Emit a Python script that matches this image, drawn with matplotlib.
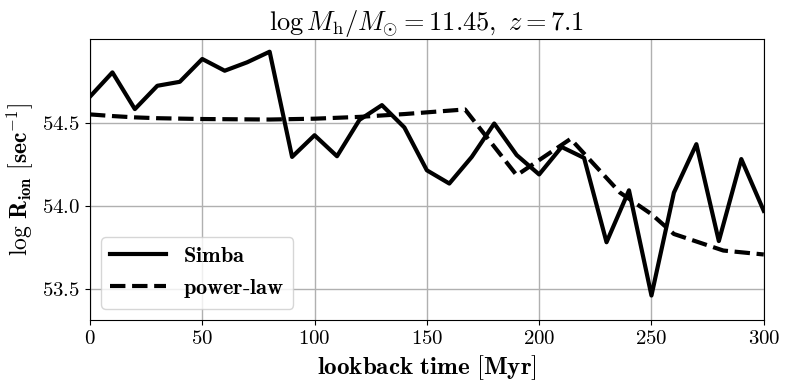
import matplotlib
matplotlib.use("Agg")
import matplotlib.pyplot as plt
from matplotlib.ticker import FuncFormatter

plt.rcParams['mathtext.fontset'] = 'cm'
plt.rcParams['font.family'] = 'serif'
plt.rcParams['font.serif'] = ['cmr10', 'DejaVu Serif']
plt.rcParams['axes.formatter.use_mathtext'] = True

t_simba = [0, 10, 20, 30, 40, 50, 60, 70, 80, 90, 100, 110, 120, 130, 140, 150,
           160, 170, 180, 190, 200, 210, 220, 230, 240, 250, 260, 270, 280, 290, 300]
r_simba = [54.66, 54.807, 54.585, 54.726, 54.75, 54.888, 54.817, 54.868, 54.932,
           54.296, 54.427, 54.30, 54.52, 54.609, 54.474, 54.215,
           54.135, 54.296, 54.498, 54.307, 54.19, 54.356, 54.29, 53.78, 54.094,
           53.458, 54.08, 54.373, 53.787, 54.283, 53.97]

t_pl = [0, 10, 20, 30, 50, 80, 100, 120, 140, 167, 190, 214, 236, 250, 260, 282, 300]
r_pl = [54.553, 54.543, 54.535, 54.53, 54.525, 54.522, 54.527, 54.538, 54.555,
        54.583, 54.185, 54.405, 54.08, 53.95, 53.83, 53.73, 53.706]

fig = plt.figure(figsize=(7.89, 3.9), dpi=100)
ax = fig.add_axes([0.114, 0.1795, 0.854, 0.721])

ax.plot(t_simba, r_simba, color='black', lw=3, label=r'$\mathbf{Simba}$')
ax.plot(t_pl, r_pl, color='black', lw=3, ls='--', label=r'$\mathbf{power}$-$\mathbf{law}$')

ax.set_xlim(0, 300)
ax.set_ylim(53.31, 55.01)
ax.set_xticks([0, 50, 100, 150, 200, 250, 300])
ax.set_yticks([53.5, 54.0, 54.5])
ax.xaxis.set_major_formatter(FuncFormatter(lambda v, p: r'$%d$' % v))
ax.yaxis.set_major_formatter(FuncFormatter(lambda v, p: r'$%.1f$' % v))
ax.tick_params(labelsize=15)
ax.grid(True, color='#b0b0b0', lw=1)
ax.set_axisbelow(True)

ax.set_title(r'$\log M_{\rm h}/M_{\odot} = 11.45,\ z = 7.1$', fontsize=19)
ax.set_xlabel(r'$\mathbf{lookback\ time\ [Myr]}$', fontsize=18)
ax.set_ylabel(r'$\log\,\mathbf{R_{ion}}\ [\mathbf{sec^{-1}}]$', fontsize=17)

ax.legend(loc='lower left', fontsize=16, handlelength=2.5, framealpha=0.8)

fig.savefig('out.png', dpi=100)
